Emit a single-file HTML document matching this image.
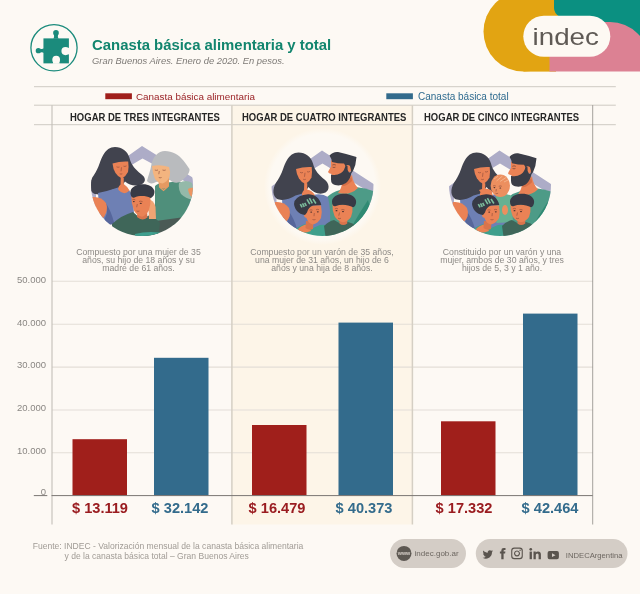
<!DOCTYPE html>
<html lang="es"><head><meta charset="utf-8"><title>Canasta básica alimentaria y total</title>
<style>
html,body{margin:0;padding:0;background:#fdf9f4;}
body{width:640px;height:594px;overflow:hidden;position:relative;font-family:"Liberation Sans",sans-serif;}
svg{position:absolute;left:0;top:0;display:block;}
text{font-family:"Liberation Sans",sans-serif;}
</style></head><body>
<svg width="640" height="594" viewBox="0 0 640 594">
<rect width="640" height="594" fill="#fdf9f4"/>
<!-- top-right logo shapes -->
<g>
<circle cx="523.5" cy="31.600" r="40" fill="#e2a412"/><rect x="523.500" y="-9" width="32.500" height="80.600" fill="#e2a412"/>
<path d="M554,-2 H642 V60 H575 V22 Q554,18 554,8 Z" fill="#0b9081"/>
<path d="M549.5,22 H610 A39,39 0 0 1 649,61 V71.6 H549.5 Z" fill="#dc8193"/>
<rect x="523.3" y="15.8" width="87" height="41" rx="20.5" fill="#fdf9f3"/>
<text transform="translate(532.600,44.800) scale(1.180,1)" font-size="23.500" fill="#5f5a55">indec</text>
</g>
<!-- puzzle icon -->
<g>
<circle cx="54" cy="47.8" r="23.1" fill="none" stroke="#1b8b7c" stroke-width="1.3"/>
<g transform="translate(26,20) scale(0.09428)" fill="#1b8b7c">
<rect x="185" y="195" width="270" height="265"/>
<circle cx="318" cy="137" r="30"/>
<path d="M297,155 H339 Q334,180 346,200 H290 Q302,180 297,155 Z"/>
<circle cx="131" cy="325" r="28"/>
<path d="M150,304 Q172,312 190,300 V350 Q172,338 150,346 Z"/>
<g fill="#fdf9f4">
<circle cx="419" cy="330" r="43"/>
<rect x="440" y="296" width="24" height="68"/>
<circle cx="320" cy="421" r="41"/>
<path d="M286,440 H354 Q350,452 358,464 H282 Q290,452 286,440 Z"/>
</g>
</g>
</g>
<!-- Title -->
<text x="92" y="50.3" font-size="14.9" font-weight="700" fill="#12856e">Canasta básica alimentaria y total</text>
<text x="92" y="64" font-size="9.4" font-style="italic" fill="#7d7a76">Gran Buenos Aires. Enero de 2020. En pesos.</text>
<!-- middle column -->
<rect x="232" y="105.2" width="180.5" height="419.3" fill="#fdf5e8"/>
<defs><radialGradient id="wg"><stop offset="0.9" stop-color="#fdf9f3"/><stop offset="1" stop-color="#fdf9f3" stop-opacity="0"/></radialGradient></defs><circle cx="322.5" cy="186.5" r="58.5" fill="url(#wg)"/>
<!-- horizontal rules -->
<g stroke="#cecac3" stroke-width="1">
<line x1="34" x2="615.8" y1="86.7" y2="86.7"/>
<line x1="34" x2="615.8" y1="105.2" y2="105.2"/>
<line x1="34" x2="615.8" y1="124.7" y2="124.7"/>
</g>
<!-- legend -->
<rect x="105.300" y="93.300" width="26.600" height="5.900" fill="#a01f1b"/>
<text x="136" y="100" font-size="9.87" fill="#9b2327">Canasta básica alimentaria</text>
<rect x="386.300" y="93.300" width="26.600" height="5.900" fill="#336b8c"/>
<text x="418" y="100" font-size="10" fill="#2f6b8f">Canasta básica total</text>
<!-- column headers -->
<g font-size="10" font-weight="700" fill="#262626">
<text transform="translate(70,120.9) scale(0.95,1)">HOGAR DE TRES INTEGRANTES</text>
<text transform="translate(242,120.9) scale(0.95,1)">HOGAR DE CUATRO INTEGRANTES</text>
<text transform="translate(424,120.9) scale(0.95,1)">HOGAR DE CINCO INTEGRANTES</text>
</g>
<!-- gridlines -->
<g stroke="#e3ded7" stroke-width="1.05">
<line x1="52" x2="592.7" y1="281.3" y2="281.3"/>
<line x1="52" x2="592.7" y1="324.2" y2="324.2"/>
<line x1="52" x2="592.7" y1="367.1" y2="367.1"/>
<line x1="52" x2="592.7" y1="410" y2="410"/>
<line x1="52" x2="592.7" y1="452.8" y2="452.8"/>
</g>
<!-- vertical rules -->
<g>
<line x1="52" x2="52" y1="105.2" y2="524.5" stroke="#c3bfb8" stroke-width="1.1"/>
<line x1="231.9" x2="231.9" y1="105.2" y2="524.5" stroke="#d5cfc4" stroke-width="1.5"/>
<line x1="412.4" x2="412.4" y1="105.2" y2="524.5" stroke="#d5cfc4" stroke-width="1.5"/>
<line x1="592.7" x2="592.7" y1="105.2" y2="524.5" stroke="#75726e" stroke-width="0.65"/>
</g>
<!-- axis labels -->
<g font-size="9.5" fill="#8a8783" text-anchor="end">
<text x="46" y="282.6">50.000</text>
<text x="46" y="325.5">40.000</text>
<text x="46" y="368.4">30.000</text>
<text x="46" y="411.3">20.000</text>
<text x="46" y="454.1">10.000</text>
<text x="46" y="494.5">0</text>
</g>
<!-- descriptions -->
<g font-size="8.7" fill="#8d8a86" text-anchor="middle">
<text x="138.5" y="255.3">Compuesto por una mujer de 35</text>
<text x="138.5" y="263.3">años, su hijo de 18 años y su</text>
<text x="138.5" y="271.2">madre de 61 años.</text>
<text x="322" y="255.3">Compuesto por un varón de 35 años,</text>
<text x="322" y="263.3">una mujer de 31 años, un hijo de 6</text>
<text x="322" y="271.2">años y una hija de 8 años.</text>
<text x="502" y="255.3">Constituido por un varón y una</text>
<text x="502" y="263.3">mujer, ambos de 30 años, y tres</text>
<text x="502" y="271.2">hijos de 5, 3 y 1 año.</text>
</g>
<!-- bars -->
<g fill="#a01f1b">
<rect x="72.5" y="439.2" width="54.5" height="56.4"/>
<rect x="252" y="425" width="54.5" height="70.6"/>
<rect x="441" y="421.3" width="54.5" height="74.3"/>
</g>
<g fill="#336b8c">
<rect x="154" y="357.8" width="54.5" height="137.8"/>
<rect x="338.5" y="322.6" width="54.5" height="173"/>
<rect x="523" y="313.6" width="54.5" height="182"/>
</g>
<path d="M33.800,495.600 H47.300 M51.500,495.600 H592.700" stroke="#7a7672" stroke-width="1" fill="none"/>
<!-- values -->
<g font-size="14.6" font-weight="700" text-anchor="middle">
<text x="100" y="513" fill="#9a1c20">$ 13.119</text>
<text x="180" y="513" fill="#336b8c">$ 32.142</text>
<text x="277" y="513" fill="#9a1c20">$ 16.479</text>
<text x="364" y="513" fill="#336b8c">$ 40.373</text>
<text x="464" y="513" fill="#9a1c20">$ 17.332</text>
<text x="550" y="513" fill="#336b8c">$ 42.464</text>
</g>
<!-- illustration 1 -->
<defs><clipPath id="c1"><circle cx="142" cy="185" r="51"/></clipPath></defs>
<g clip-path="url(#c1)">
<!-- house outline -->
<path d="M142,146 L196,179.500 V240 H188 V183 L142.500,158.500 L96,186 V240 H88 V184.500 Z" fill="#adacc7"/>
<!-- grandma body -->
<path d="M155,186 Q158,183 163,183 L172,182 Q182,181 188,186 L194,196 V225 H155 Z" fill="#4f8f7b"/>
<path d="M179,183 Q186,179 192,183 L195,200 Q186,199 181,194 Q178,189 179,183 Z" fill="#94b9a9"/>
<path d="M188,189 Q191,187 194,188 V198 Q189,197 188,189 Z" fill="#ec9561"/>
<!-- grandma hair -->
<path d="M165,151 C158,151 153,157 151.5,164 C150.5,171 148,176 147,181 C149,184 153,184 156,182 L170,180 C173,183 178,184 182,180.5 C186,177 190,173 189.5,169 C186,164 181,156 175,153.5 C172,152 168.5,151 165,151 Z" fill="#b9bbbe"/>
<!-- grandma neck + face -->
<path d="M158.5,180 L169,178 L169,186 Q164,191 159,187 Z" fill="#e59a62"/>
<path d="M152,166 Q160,164 169,167 Q171,172 169.5,177 Q167,182 162.5,183.5 Q158,183 155,179 Q152.5,173 152,166 Z" fill="#f3b47f"/>
<path d="M159.5,187 L163.5,190.5 L168.5,186" fill="none" stroke="#e59a62" stroke-width="1.2"/>
<!-- woman hair -->
<path d="M115,147 C122,147 127.5,151 129.5,158 C131,165 136,170 141,174 C146,177.5 146,181.5 142,184 C137,186.500 130,186 125,181.500 L121,187.500 L112,190 C106,194 97,196 93,193 C88,189 89.5,181 94,175 C99,168 100,160 103.5,154.5 C106,150 110,147 115,147 Z" fill="#41434e"/>
<!-- woman tank/body -->
<path d="M98,193 Q108,191 118,187.500 L129,190 L133,196 L134,214 L114,223 L100,222 Z" fill="#6e80b4"/>
<path d="M105,202 Q111,210 114.500,224 L102,226 L107,213 Z" fill="#56669b"/>
<path d="M92,197 Q101,196 106,203 Q109,211 102.5,219 L88,210 Z" fill="#ea8255"/>
<!-- woman neck/chest -->
<path d="M120.800,176.500 L123.800,178 L123.700,184 Q128,187 129.500,190.500 Q124,196 118.500,190 Q117.300,187.500 120.500,184.500 Z" fill="#ea8255"/>
<!-- woman face -->
<path d="M112.5,163.5 Q120,161 128.2,161.5 Q129,167 128,172 Q126,176 122,178.6 Q118,177 115.5,173 Q113,169 112.5,163.5 Z" fill="#ea8255"/>
<!-- dark lower right -->
<path d="M156,221 L181,217.5 L186,226 L160,240 L140,240 Z" fill="#4b5a55"/>
<!-- boy shirt -->
<path d="M112,224 Q122,215 133,212 L141,219 L150,215 Q157,219 160,223 L158,240 H112 Z" fill="#3f6659"/>
<!-- teal bottom -->
<path d="M135,234 Q146,231 160,232.5 L160,240 H135 Z" fill="#3fa08f"/>
<!-- hand at boy's cheek -->
<path d="M148,199 Q154,200 155.5,207 L156,219 L149,219 Z" fill="#f0a473"/>
<!-- boy neck+face -->
<path d="M137.500,211 L147,211 L147.500,217.500 Q142,221.500 137,217 Z" fill="#d9744c"/>
<path d="M131.300,195 L150.500,196 Q151,204 148.800,210.500 Q146,215.500 142,216.800 Q137,215.800 134,210.500 Q131,203 131.300,195 Z" fill="#ea8255"/>
<!-- boy hair -->
<path d="M141,184.3 C147,183.5 153,186 154.3,190.5 C155,194 153,197.5 150.5,198 C146,195.5 139,195.5 134.5,197.5 C132,198.5 130.5,196 130.4,192.5 C130.5,188 135,185 141,184.3 Z" fill="#373a45"/>
<!-- facial marks -->
<g stroke="#8a4a3a" stroke-width="0.6" fill="none">
<path d="M116.500,166.800 q1.500,0.900 3,0.200 M123.500,166.200 q1.500,0.700 3,-0.300 M121.500,167.300 l-0.500,4 M119.700,173.800 q1.300,0.600 2.600,0"/>
<path d="M154.800,170 q1.600,0.800 3.200,0 M162.500,170 q1.600,0.800 3.200,0 M159.300,171 l-0.500,3.200 M158.800,177.500 q1.400,0.600 2.800,0"/>
<path d="M132.300,199.800 q1.500,-0.800 3,0 M139,201.500 q1.800,-0.800 3.600,0.200 M137.300,204 l-0.600,3.200 M136.500,211 q1.500,0.700 3,0"/>
</g>
<g fill="#4a2f2c"><ellipse cx="133.800" cy="201.600" rx="1" ry="0.600"/><ellipse cx="140.800" cy="203.300" rx="1.100" ry="0.600"/></g>
</g>
<!-- illustration 2 -->
<defs><clipPath id="c2"><circle cx="322.5" cy="185" r="51"/></clipPath></defs>
<g clip-path="url(#c2)">
<!-- house outline -->
<path d="M322,150.5 L376,185.600 V240 H366 V190 L322.500,163.500 L276.500,191 V240 H268 V188.800 Z" fill="#adacc7"/>
<!-- man shirt -->
<path d="M326,198 Q332,192 340,190 L356,187 Q366,188 376,192 V232 H326 Z" fill="#4d9b87"/>
<path d="M368,200 Q360,212 352,226 L362,232 L372,215 Z" fill="#2f8a73"/>
<!-- man neck -->
<path d="M342,182 L352,175 Q353,183 358,188 Q350,196 338,193 Q342,188 342,182 Z" fill="#ea8255"/>
<path d="M343,183 L351.5,177 L352,181 Q347,186 342.5,186 Z" fill="#d66f47"/>
<!-- man face -->
<path d="M331,160.5 L345,162 L348,164 Q352,165 351.5,169 Q351,172.5 347.5,172.5 L345,178 L332,176 L331.5,174 Q328.5,173.5 328,172 Q329.5,169 331,166.5 Z" fill="#ea8255"/>
<!-- man beard -->
<path d="M331,174.5 Q336,176 341,173 Q345,170 345.5,165 L347.5,166 Q347,170 349,172.5 L351.5,172 Q351,178.500 346,183 Q341,186.500 335,185 Q331,184 331,179.500 Z" fill="#3b3d47"/>
<!-- man hair -->
<path d="M329.5,155.5 Q333,151.5 338,152 Q347,154 356.5,157 Q356,165 353,171 L350.5,174 Q351.5,169 350,166 Q348,164 345.5,166 L344,163.5 Q338,163.5 332,162 Q331.5,158.5 329.5,155.5 Z" fill="#3b3d47"/>
<!-- man eye --><g stroke="#5a3530" stroke-width="0.6" fill="none"><path d="M332.300,165 q1.700,-0.900 3.500,0 M332.600,167.200 q1.400,0.600 2.800,0"/></g>
<!-- woman tank/body wide -->
<path d="M282,198 Q292,196 301,193 L313,195 Q322,193 328,197 Q331,210 330,226 L300,230 L283,222 Z" fill="#6e80b4"/>
<path d="M288.5,211 Q294,218 297,229 L287,226 Z" fill="#56669b"/>
<path d="M275,202 Q284,201 289,208 Q292,216 286,222 L271,214 Z" fill="#ea8255"/>
<!-- woman hair -->
<path d="M298.5,152.500 C305.500,152.500 311,156.500 313,163.500 C314.500,170.500 319.500,175.500 324.500,179.500 C329.500,183 330,190 325.500,192.500 C320.500,195 313.500,193.500 308.500,187 L304.500,193 L295.500,195.500 C289.500,199.500 280.500,201.500 276.500,198.500 C271.500,194.500 273,186.500 277.500,180.500 C282.500,173.500 283.500,165.500 287,160 C289.500,155.500 293.500,152.500 298.500,152.500 Z" fill="#41434e"/>
<!-- woman neck/chest -->
<path d="M304.300,182 L307.300,183.500 L307.200,189.500 Q312.500,190.500 315,195.500 Q309,200 302.500,197 Q300.800,193.500 304,190 Z" fill="#ea8255"/>
<!-- woman face -->
<path d="M296,169 Q303.500,166.500 311.700,167 Q312.500,172.500 311.500,177.500 Q309.500,181.500 305.500,184.100 Q301.500,182.500 299,178.500 Q296.500,174.500 296,169 Z" fill="#ea8255"/>
<!-- girl dress -->
<path d="M293,231 Q300,225 306,224 L313,228 L320,225 Q328,224 336,228 V240 H293 Z" fill="#3f9f8c"/>
<path d="M298,229 Q303,224 308,224.500 L311,231 Q304,234 299,232 Z" fill="#ea8255"/>
<!-- girl neck -->
<path d="M306,221 L313.500,222 L313,229 Q309,231 305.500,228 Z" fill="#d9744c"/>
<!-- girl face -->
<path d="M306,207 Q313,204.500 321,205.500 Q322.500,212 321,218 Q318,223.500 312.500,224.500 Q308,223 306.500,218 L304.500,217 Q303,214 304.500,211.500 Z" fill="#ea8255"/>
<!-- girl hair -->
<path d="M308,194.300 C314,194 320,198 321.300,205 L313,205.500 Q308.500,207 307,212.500 L305,215 Q300,214.500 297,211 Q293,206 294.500,201 Q298,195 308,194.300 Z" fill="#373a45"/>
<g stroke="#7dbd9c" stroke-width="1.600" fill="none">
<path d="M300.300,204.200 L302.100,207.400 M302.500,203.400 L304.300,206.800 M304.700,202.800 L306.300,205.800 M307,199.300 L309.800,204.200 M309.400,198.100 L312.300,203.400 M313,199 L315.900,203.500"/>
</g>
<!-- boy shirt -->
<path d="M324,226 Q329,221 334,220 L341,224 L348,222 Q353,223 356,226 L352,240 H326 Z" fill="#3f6659"/>
<!-- boy neck/face -->
<path d="M339.500,219 L347,219 L347.300,223.500 Q343,226.500 339.500,223.500 Z" fill="#d9744c"/>
<path d="M332.500,204 L352.500,205 Q353,212 351,217 Q347.500,222 343,222.300 Q337,221 334.500,216 Q332,210 332.500,204 Z" fill="#ea8255"/>
<!-- boy hair -->
<path d="M343,193.800 C349,193.300 355,196 356,200.500 C356.500,204 355,207 353,207.300 C348,204.500 341,204 336,206 C333.500,207 332,205 332,201.500 C332.200,197 337,194.300 343,193.800 Z" fill="#373a45"/>
<g stroke="#8a4a3a" stroke-width="0.6" fill="none">
<path d="M300,172.300 q1.500,0.900 3,0.200 M307,171.700 q1.500,0.700 3,-0.300 M305,172.800 l-0.500,4 M303.200,179.300 q1.300,0.600 2.600,0"/>
<path d="M309.500,210.200 q1.500,-0.800 3,0 M316,209.800 q1.500,-0.800 3,-0.100 M314.300,213 l-0.300,3.200 M312.500,219.500 q1.500,0.700 3,0"/>
<path d="M334.800,208.800 q1.500,-0.800 3.200,0 M341.300,209.800 q1.600,-0.700 3.300,0.200 M339.500,212.500 l-0.700,3.200 M338,218.200 q1.500,0.700 3,0.100"/>
</g>
<g fill="#4a2f2c"><ellipse cx="311.200" cy="212.100" rx="1" ry="0.600"/><ellipse cx="317.800" cy="211.800" rx="1" ry="0.600"/><ellipse cx="336.500" cy="210.700" rx="1" ry="0.600"/><ellipse cx="343" cy="211.600" rx="1.100" ry="0.600"/></g>
</g>
<!-- illustration 3 -->
<defs><clipPath id="c3"><circle cx="500" cy="185" r="51"/></clipPath></defs>
<g clip-path="url(#c3)">
<g transform="translate(177.5,0)">
<!-- house outline -->
<path d="M322,150.5 L376,185.600 V240 H366 V190 L322.500,163.500 L276.500,191 V240 H268 V188.800 Z" fill="#adacc7"/>
</g>
<g transform="translate(180,1.3)">
<!-- man shirt -->
<path d="M326,198 Q332,192 340,190 L356,187 Q366,188 376,192 V232 H326 Z" fill="#4d9b87"/>
<path d="M368,200 Q360,212 352,226 L362,232 L372,215 Z" fill="#2f8a73"/>
<!-- man neck -->
<path d="M342,182 L352,175 Q353,183 358,188 Q350,196 338,193 Q342,188 342,182 Z" fill="#ea8255"/>
<path d="M343,183 L351.5,177 L352,181 Q347,186 342.5,186 Z" fill="#d66f47"/>
<!-- man face -->
<path d="M331,160.5 L345,162 L348,164 Q352,165 351.5,169 Q351,172.5 347.5,172.5 L345,178 L332,176 L331.5,174 Q328.5,173.5 328,172 Q329.5,169 331,166.5 Z" fill="#ea8255"/>
<!-- man beard -->
<path d="M331,174.5 Q336,176 341,173 Q345,170 345.5,165 L347.5,166 Q347,170 349,172.5 L351.5,172 Q351,178.500 346,183 Q341,186.500 335,185 Q331,184 331,179.500 Z" fill="#3b3d47"/>
<!-- man hair -->
<path d="M329.5,155.5 Q333,151.5 338,152 Q347,154 356.5,157 Q356,165 353,171 L350.5,174 Q351.5,169 350,166 Q348,164 345.5,166 L344,163.5 Q338,163.5 332,162 Q331.5,158.5 329.5,155.5 Z" fill="#3b3d47"/>
<!-- man eye --><g stroke="#5a3530" stroke-width="0.6" fill="none"><path d="M332.300,165 q1.700,-0.900 3.500,0 M332.600,167.200 q1.400,0.600 2.800,0"/></g>
</g>
<g transform="translate(178,0)">
<!-- woman tank/body wide -->
<path d="M282,198 Q292,196 301,193 L313,195 Q322,193 328,197 Q331,210 330,226 L300,230 L283,222 Z" fill="#6e80b4"/>
<path d="M288.5,211 Q294,218 297,229 L287,226 Z" fill="#56669b"/>
<path d="M275,202 Q284,201 289,208 Q292,216 286,222 L271,214 Z" fill="#ea8255"/>
<!-- woman hair -->
<path d="M298.5,152.500 C305.500,152.500 311,156.500 313,163.500 C314.500,170.500 319.500,175.500 324.500,179.500 C329.500,183 330,190 325.500,192.500 C320.500,195 313.500,193.500 308.500,187 L304.500,193 L295.500,195.500 C289.500,199.500 280.500,201.500 276.500,198.500 C271.500,194.500 273,186.500 277.500,180.500 C282.500,173.500 283.500,165.500 287,160 C289.500,155.500 293.500,152.500 298.500,152.500 Z" fill="#41434e"/>
<!-- woman neck/chest -->
<path d="M304.300,182 L307.300,183.500 L307.200,189.500 Q312.500,190.500 315,195.500 Q309,200 302.500,197 Q300.800,193.500 304,190 Z" fill="#ea8255"/>
<!-- woman face -->
<path d="M296,169 Q303.500,166.500 311.700,167 Q312.500,172.500 311.500,177.500 Q309.500,181.500 305.500,184.100 Q301.500,182.500 299,178.500 Q296.500,174.500 296,169 Z" fill="#ea8255"/>
</g>
<!-- baby -->
<path d="M496,196 Q504,192 511.500,196 L513,222 L496.500,223 Q494.500,208 496,196 Z" fill="#66b192"/>
<ellipse cx="505" cy="210" rx="3" ry="5" fill="#ec8f5f"/>
<path d="M479,190 Q485,187 491,190 Q494,194 490,196.500 Q483,197 479,190 Z" fill="#ea8255"/>
<ellipse cx="500.300" cy="185.800" rx="9.700" ry="11.300" fill="#ec8f5f"/>
<g stroke="#f4b48c" stroke-width="0.9" fill="none"><path d="M494,179 L498,176.300 M496.500,181 L502.500,176 M500,181.500 L506,177.500 M504,182 L508,180"/></g>
<g stroke="#8a4a3a" stroke-width="0.600" fill="none"><path d="M493,186 q1.400,-0.700 2.800,0 M498.800,186.300 q1.500,-0.700 3,0 M496.300,189 l-0.300,2.500 M495.500,193.300 q1.300,0.600 2.600,0"/></g><g fill="#4a2f2c"><ellipse cx="494.400" cy="187.600" rx="0.900" ry="0.550"/><ellipse cx="500.300" cy="188" rx="0.900" ry="0.550"/></g>
<g transform="translate(178,0)">
<!-- girl dress -->
<path d="M293,231 Q300,225 306,224 L313,228 L320,225 Q328,224 336,228 V240 H293 Z" fill="#3f9f8c"/>
<path d="M298,229 Q303,224 308,224.500 L311,231 Q304,234 299,232 Z" fill="#ea8255"/>
<!-- girl neck -->
<path d="M306,221 L313.500,222 L313,229 Q309,231 305.500,228 Z" fill="#d9744c"/>
<!-- girl face -->
<path d="M306,207 Q313,204.500 321,205.500 Q322.500,212 321,218 Q318,223.500 312.500,224.500 Q308,223 306.500,218 L304.500,217 Q303,214 304.500,211.500 Z" fill="#ea8255"/>
<!-- girl hair -->
<path d="M308,194.300 C314,194 320,198 321.300,205 L313,205.500 Q308.500,207 307,212.500 L305,215 Q300,214.500 297,211 Q293,206 294.500,201 Q298,195 308,194.300 Z" fill="#373a45"/>
<g stroke="#7dbd9c" stroke-width="1.600" fill="none">
<path d="M300.300,204.200 L302.100,207.400 M302.500,203.400 L304.300,206.800 M304.700,202.800 L306.300,205.800 M307,199.300 L309.800,204.200 M309.400,198.100 L312.300,203.400 M313,199 L315.900,203.500"/>
</g>
<!-- boy shirt -->
<path d="M324,226 Q329,221 334,220 L341,224 L348,222 Q353,223 356,226 L352,240 H326 Z" fill="#3f6659"/>
<!-- boy neck/face -->
<path d="M339.500,219 L347,219 L347.300,223.500 Q343,226.500 339.500,223.500 Z" fill="#d9744c"/>
<path d="M332.500,204 L352.500,205 Q353,212 351,217 Q347.500,222 343,222.300 Q337,221 334.500,216 Q332,210 332.500,204 Z" fill="#ea8255"/>
<!-- boy hair -->
<path d="M343,193.800 C349,193.300 355,196 356,200.500 C356.500,204 355,207 353,207.300 C348,204.500 341,204 336,206 C333.500,207 332,205 332,201.500 C332.200,197 337,194.300 343,193.800 Z" fill="#373a45"/>
<g stroke="#8a4a3a" stroke-width="0.6" fill="none">
<path d="M300,172.300 q1.500,0.900 3,0.200 M307,171.700 q1.500,0.700 3,-0.300 M305,172.800 l-0.500,4 M303.200,179.300 q1.300,0.600 2.600,0"/>
<path d="M309.500,210.200 q1.500,-0.800 3,0 M316,209.800 q1.500,-0.800 3,-0.100 M314.300,213 l-0.300,3.200 M312.500,219.500 q1.500,0.700 3,0"/>
<path d="M334.800,208.800 q1.500,-0.800 3.200,0 M341.300,209.800 q1.600,-0.700 3.300,0.200 M339.500,212.500 l-0.700,3.200 M338,218.200 q1.500,0.700 3,0.100"/>
</g>
<g fill="#4a2f2c"><ellipse cx="311.200" cy="212.100" rx="1" ry="0.600"/><ellipse cx="317.800" cy="211.800" rx="1" ry="0.600"/><ellipse cx="336.500" cy="210.700" rx="1" ry="0.600"/><ellipse cx="343" cy="211.600" rx="1.100" ry="0.600"/></g>
</g>
</g>
<!-- source -->
<g font-size="8.56" fill="#a09b95">
<text x="32.7" y="548.8">Fuente: INDEC - Valorización mensual de la canasta básica alimentaria</text>
<text x="64.5" y="559">y de la canasta básica total – Gran Buenos Aires</text>
</g>
<!-- pills -->
<rect x="390" y="539" width="76" height="29" rx="14.5" fill="#d4cdc6"/>
<circle cx="404" cy="553.4" r="7.5" fill="#5d5852"/>
<text x="404" y="555.1" font-size="5.4" font-weight="700" fill="#d4cdc6" text-anchor="middle">www</text>
<text x="414.6" y="556.2" font-size="8" fill="#6d6761">indec.gob.ar</text>
<rect x="475.8" y="539" width="151.7" height="29" rx="14.5" fill="#d4cdc6"/>
<g fill="#5a544e">
<!-- twitter -->
<path transform="translate(482.6,549.2) scale(0.435)" d="M23.953 4.57a10 10 0 01-2.825.775 4.958 4.958 0 002.163-2.723c-.951.555-2.005.959-3.127 1.184a4.92 4.92 0 00-8.384 4.482C7.69 8.095 4.067 6.13 1.64 3.162a4.822 4.822 0 00-.666 2.475c0 1.71.87 3.213 2.188 4.096a4.904 4.904 0 01-2.228-.616v.06a4.923 4.923 0 003.946 4.827 4.996 4.996 0 01-2.212.085 4.936 4.936 0 004.604 3.417 9.867 9.867 0 01-6.102 2.105c-.39 0-.779-.023-1.17-.067a13.995 13.995 0 007.557 2.209c9.053 0 13.998-7.496 13.998-13.985 0-.21 0-.42-.015-.63A9.935 9.935 0 0024 4.59z"/>
<!-- facebook f -->
<path d="M501.3,559.2 V553.6 H499.9 V551.6 H501.3 V550.4 Q501.3,548 503.8,548 H505.5 V550 H504.4 Q503.6,550 503.6,550.8 V551.6 H505.4 L505.1,553.6 H503.6 V559.2 Z"/>
<!-- instagram -->
<path fill-rule="evenodd" d="M514.2,547.6 H519.8 Q522.8,547.6 522.8,550.6 V556.2 Q522.8,559.2 519.8,559.2 H514.2 Q511.2,559.2 511.2,556.2 V550.6 Q511.2,547.6 514.2,547.6 Z M514.4,548.7 Q512.3,548.7 512.3,550.8 V556 Q512.3,558.1 514.4,558.1 H519.6 Q521.7,558.1 521.7,556 V550.8 Q521.7,548.7 519.6,548.7 Z"/>
<path fill-rule="evenodd" d="M517,550.4 a3,3 0 1 0 0.001,0 Z M517,551.5 a1.900,1.900 0 1 1 -0.001,0 Z"/>
<circle cx="520.1" cy="550.3" r="0.700"/>
<!-- linkedin -->
<rect x="529.6" y="551.6" width="2.300" height="7.600"/>
<circle cx="530.750" cy="549.300" r="1.350"/>
<path d="M533.5,551.6 H535.7 V552.6 Q536.500,551.400 538.100,551.400 Q540.900,551.400 540.900,554.600 V559.200 H538.600 V555 Q538.600,553.400 537.300,553.400 Q535.800,553.400 535.800,555.100 V559.200 H533.500 Z"/>
<!-- youtube -->
<path fill-rule="evenodd" d="M549.5,551.1 H557 Q558.900,551.100 558.900,553 V557.300 Q558.900,559.200 557,559.200 H549.500 Q547.600,559.200 547.600,557.300 V553 Q547.600,551.100 549.500,551.100 Z M552,553.200 V557.100 L555.500,555.150 Z"/>
</g>
<text x="565.8" y="557.6" font-size="7.68" fill="#6d6761">INDECArgentina</text>
</svg>
</body></html>
